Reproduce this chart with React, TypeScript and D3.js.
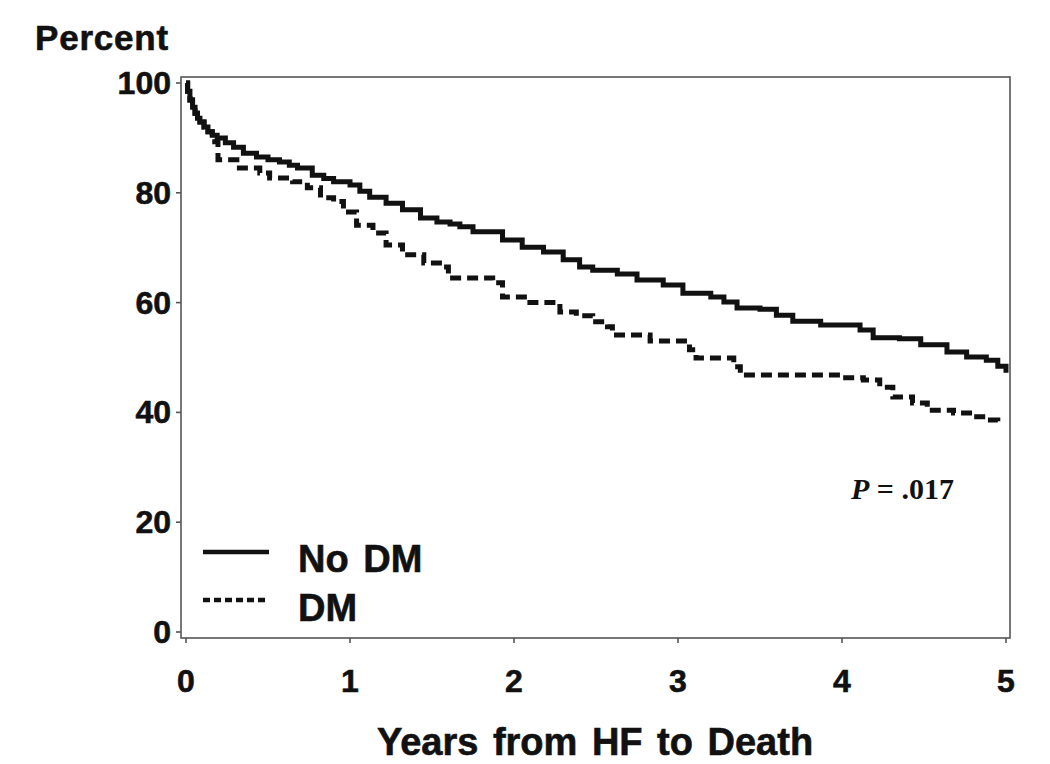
import React from "react";
import * as d3 from "d3";

const xTicks = [0, 1, 2, 3, 4, 5];
const yTicks = [0, 20, 40, 60, 80, 100];

const noDmTime = [0, 0.01, 0.024, 0.04, 0.055, 0.07, 0.085, 0.11, 0.134, 0.16, 0.19, 0.24, 0.29, 0.35, 0.43, 0.5, 0.57, 0.63, 0.68, 0.77, 0.84, 0.9, 1.0, 1.06, 1.12, 1.22, 1.32, 1.43, 1.53, 1.61, 1.67, 1.75, 1.87, 1.93, 2.05, 2.18, 2.3, 2.4, 2.48, 2.63, 2.75, 2.91, 3.03, 3.2, 3.28, 3.36, 3.5, 3.6, 3.7, 3.87, 4.11, 4.19, 4.35, 4.48, 4.64, 4.76, 4.88, 4.95, 5.0];
const noDmSurv = [100, 98.5, 96.9, 95.6, 94.5, 93.6, 92.9, 92.0, 91.1, 90.5, 90.0, 89.1, 88.3, 87.2, 86.5, 86.0, 85.6, 85.0, 84.5, 83.2, 82.6, 82.0, 81.4, 80.3, 79.2, 78.1, 76.9, 75.4, 74.7, 74.3, 73.8, 72.9, 72.9, 71.4, 70.1, 69.2, 67.8, 66.5, 65.9, 65.2, 64.1, 63.2, 61.7, 61.0, 60.1, 59.0, 58.8, 57.7, 56.6, 55.9, 55.0, 53.6, 53.4, 52.3, 51.0, 50.1, 49.5, 48.4, 47.2];

const dmTime = [0, 0.01, 0.024, 0.04, 0.055, 0.07, 0.085, 0.11, 0.134, 0.16, 0.195, 0.31, 0.45, 0.51, 0.65, 0.74, 0.82, 0.9, 0.96, 1.04, 1.14, 1.22, 1.32, 1.45, 1.57, 1.6, 1.87, 1.93, 2.08, 2.28, 2.38, 2.48, 2.57, 2.6, 2.83, 3.07, 3.11, 3.34, 3.38, 3.99, 4.13, 4.23, 4.31, 4.43, 4.52, 4.68, 4.8, 4.88, 4.95];
const dmSurv = [100, 98.5, 96.9, 95.6, 94.5, 93.6, 92.9, 92.0, 91.1, 89.3, 86.0, 84.5, 83.6, 82.7, 82.0, 80.9, 79.1, 78.4, 76.5, 74.1, 72.7, 70.5, 68.7, 67.2, 66.5, 64.5, 63.6, 61.0, 60.0, 58.3, 57.6, 56.5, 55.6, 54.1, 53.0, 51.4, 49.9, 48.3, 46.8, 46.3, 45.9, 44.6, 42.8, 41.7, 40.4, 39.9, 39.2, 38.6, 37.7];

const seriesNames = ["No DM", "DM"];

const FONT = "'Liberation Sans', Arial, Helvetica, sans-serif";
const TXT = { fontFamily: FONT, fontWeight: "bold" as const, fill: "#111", stroke: "#111", strokeWidth: 0.6 };

export default function App() {
  const W = 1050;
  const H = 764;
  const x = d3.scaleLinear().domain([0, 5]).range([186, 1006]);
  const y = d3.scaleLinear().domain([0, 100]).range([632, 83]);
  const frame = { left: 181, right: 1010, top: 77, bottom: 638 };

  const line = d3
    .line<[number, number]>()
    .x((d) => x(d[0]))
    .y((d) => y(d[1]))
    .curve(d3.curveStepAfter);

  const noDm = noDmTime.map((t, i) => [t, noDmSurv[i]] as [number, number]);
  const dm = dmTime.map((t, i) => [t, dmSurv[i]] as [number, number]);

  return (
    <svg width={W} height={H} style={{ position: "absolute", left: 0, top: 0, background: "#fff" }}>
      <rect x={0} y={0} width={W} height={H} fill="#fff" />
      <text x={35} y={50} {...TXT} fontSize={35} letterSpacing={0.8}>
        Percent
      </text>
      {/* frame */}
      <rect
        x={frame.left}
        y={frame.top}
        width={frame.right - frame.left}
        height={frame.bottom - frame.top}
        fill="none"
        stroke="#555"
        strokeWidth={1.6}
      />
      {/* y ticks */}
      {yTicks.map((v) => (
        <g key={"y" + v}>
          <line x1={frame.left - 5} x2={frame.left} y1={y(v)} y2={y(v)} stroke="#555" strokeWidth={1.6} />
          <text x={171} y={y(v) + 11} textAnchor="end" {...TXT} fontSize={32}>
            {v}
          </text>
        </g>
      ))}
      {/* x ticks */}
      {xTicks.map((v) => (
        <g key={"x" + v}>
          <line x1={x(v)} x2={x(v)} y1={frame.bottom} y2={frame.bottom + 5} stroke="#555" strokeWidth={1.6} />
          <text x={x(v)} y={692} textAnchor="middle" {...TXT} fontSize={32}>
            {v}
          </text>
        </g>
      ))}
      <text x={595} y={755} textAnchor="middle" {...TXT} fontSize={38} wordSpacing={4}>
        Years from HF to Death
      </text>
      {/* curves */}
      <path d={line(dm) || ""} fill="none" stroke="#111" strokeWidth={5} strokeDasharray="11,6" />
      <path d={line(noDm) || ""} fill="none" stroke="#111" strokeWidth={5} />
      {/* legend */}
      <line x1={203} x2={269} y1={552} y2={552} stroke="#111" strokeWidth={4.5} />
      <text x={298} y={572} {...TXT} fontSize={38} wordSpacing={4}>
        {seriesNames[0]}
      </text>
      <line x1={203} x2={267} y1={600} y2={600} stroke="#111" strokeWidth={4.5} strokeDasharray="7,4" />
      <text x={298} y={621} {...TXT} fontSize={38}>
        {seriesNames[1]}
      </text>
      {/* p value */}
      <text
        x={851}
        y={499}
        fontFamily="'Liberation Serif', 'Times New Roman', serif"
        fontWeight="bold"
        fontSize={30}
        fill="#111"
      >
        <tspan fontStyle="italic">P</tspan>
        <tspan> = .017</tspan>
      </text>
    </svg>
  );
}
